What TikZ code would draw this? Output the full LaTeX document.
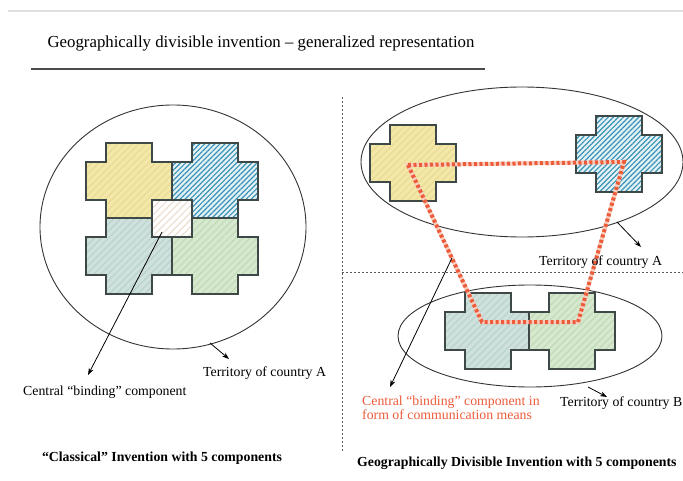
\documentclass[tikz,border=0pt]{standalone}
\usepackage{fontspec}
\setmainfont{Liberation Serif}
\usetikzlibrary{patterns.meta,arrows.meta}
\definecolor{yfill}{HTML}{F3E8A8}
\definecolor{yline}{HTML}{EADB96}
\definecolor{bfill}{HTML}{E4F2F6}
\definecolor{bline}{HTML}{3A93B6}
\definecolor{tfill}{HTML}{CFE1DD}
\definecolor{tline}{HTML}{BBD3CE}
\definecolor{gfill}{HTML}{D6E8CE}
\definecolor{gline}{HTML}{C2DBB6}
\definecolor{cline}{HTML}{EADFD2}
\definecolor{outl}{HTML}{3E4846}
\definecolor{redc}{HTML}{EC5B3A}
\definecolor{pinkc}{HTML}{F8CDBE}
\newcommand\crs[2]{(#1+20,#2) -- (#1+66,#2) -- (#1+66,#2+19) -- (#1+86,#2+19) -- (#1+86,#2+57) -- (#1+66,#2+57) -- (#1+66,#2+76) -- (#1+20,#2+76) -- (#1+20,#2+57) -- (#1,#2+57) -- (#1,#2+19) -- (#1+20,#2+19) -- cycle}
\tikzset{
  piece/.style n args={3}{preaction={fill=#1}, pattern={Lines[angle=45,distance=#3,line width=1.2pt]}, pattern color=#2, draw=outl, line width=1.1pt, line join=miter},
  sep/.style={draw=black!65, line width=0.9pt, dash pattern=on 2pt off 2pt},
  lbl/.style={font=\fontsize{13.8}{14}\selectfont, inner sep=0pt, anchor=west},
  bold/.style={font=\fontsize{13.8}{14}\selectfont\bfseries, inner sep=0pt},
  arr/.style={draw=black, line width=0.8pt, -{Stealth[length=7pt,width=5pt]}},
  commline/.style={line width=4pt, line join=miter}
}
\begin{document}
\begin{tikzpicture}[x=1pt,y=-1pt]
\useasboundingbox (0,0) rectangle (683,481);
\fill[white] (0,0) rectangle (683,481);
% header
\draw[black!12, line width=2pt] (8,11) -- (683,11);
\node[font=\fontsize{16.8}{18}\selectfont, inner sep=0pt] (title) at (261,43) {Geographically divisible invention -- generalized representation};
\draw[black!70, line width=1.6pt] (31,69) -- (485,69);
% separators
\draw[sep] (342,97) -- (342,452);
\draw[sep] (342,272) -- (683,272);
% left panel
\draw[black!80, line width=0.9pt] (173,227) ellipse [x radius=133pt, y radius=122pt];
\path[piece={yfill}{yline}{5pt}] \crs{86}{143};
\path[piece={bfill}{bline}{3.6pt}] \crs{172}{143};
\path[piece={tfill}{tline}{5pt}] \crs{86}{218};
\path[piece={gfill}{gline}{5pt}] \crs{172}{218};
\path[piece={white}{cline}{5pt}] (152,200) rectangle (192,237);
\coordinate (lc) at (162,232);
\coordinate (lctip) at (88,375);
\draw[arr] (lc) -- (lctip);
\coordinate (lt) at (210,343);
\coordinate (lttip) at (229,359);
\draw[arr] (lt) -- (lttip);
\node[lbl] (lterr) at (203,373) {Territory of country A};
\node[lbl] (lbind) at (23,392) {Central “binding” component};
\node[bold] (lcap) at (162,458) {“Classical” Invention with 5 components};
% right panel
\draw[black!80, line width=0.9pt] (522,162) ellipse [x radius=161pt, y radius=75pt];
\draw[black!80, line width=0.9pt] (530,336) ellipse [x radius=132pt, y radius=51pt];
\path[piece={yfill}{yline}{5pt}] \crs{370}{125};
\path[piece={bfill}{bline}{3.6pt}] \crs{576}{116};
\path[piece={tfill}{tline}{5pt}] \crs{445}{293};
\path[piece={gfill}{gline}{5pt}] \crs{529}{293};
\coordinate (r1) at (408,165);
\coordinate (r2) at (624,162);
\coordinate (r3) at (578,322);
\coordinate (r4) at (482,322);
\draw[commline, pinkc] (r1) -- (r2) -- (r3) -- (r4) -- cycle;
\draw[commline, redc, dash pattern=on 3pt off 2.5pt] (r1) -- (r2) -- (r3) -- (r4) -- cycle;
\coordinate (rc) at (452,258);
\coordinate (rctip) at (390,387);
\draw[arr] (rc) -- (rctip);
\coordinate (ra) at (617,222);
\coordinate (ratip) at (641,247);
\draw[arr] (ra) -- (ratip);
\coordinate (rb) at (588,387);
\coordinate (rbtip) at (607,397);
\draw[arr] (rb) -- (rbtip);
\node[lbl] (rterrA) at (539,262) {Territory of country A};
\node[lbl, text=redc, align=left, font=\fontsize{13.8}{12.3}\selectfont] (rbind) at (362,408) {Central “binding” component in\\form of communication means};
\node[lbl] (rterrB) at (560,403) {Territory of country B};
\node[bold, anchor=west] (rcap) at (357,463) {Geographically Divisible Invention with 5 components};
\end{tikzpicture}
\end{document}
